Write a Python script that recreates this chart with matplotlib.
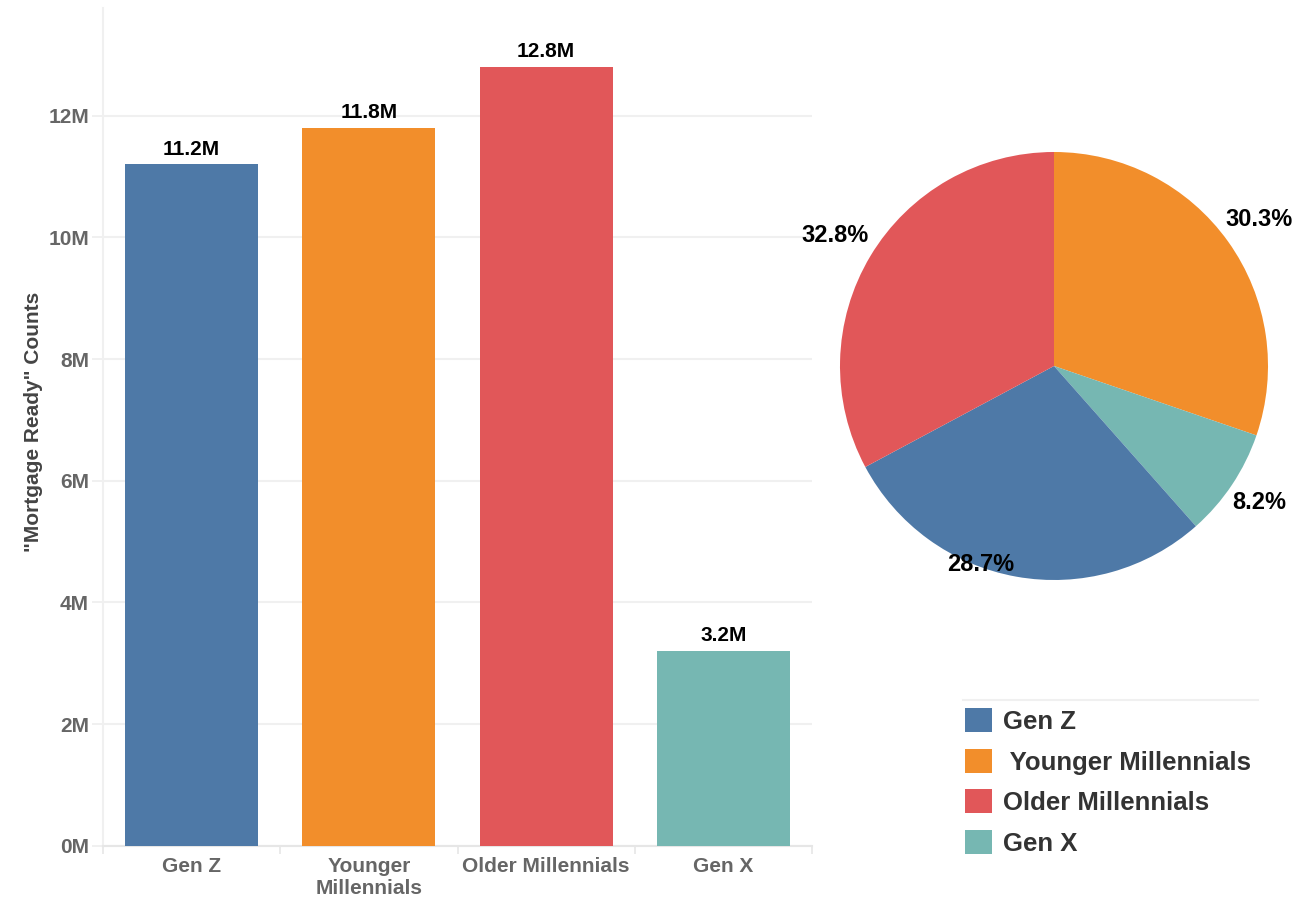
import numpy as np
import matplotlib.pyplot as plt
from matplotlib.patches import Patch

# data
categories = ['Gen Z', 'Younger Millennials', 'Older Millennials', 'Gen X']
tick_labels = ['Gen Z', 'Younger\nMillennials', 'Older Millennials', 'Gen X']
legend_labels = ['Gen Z', ' Younger Millennials', 'Older Millennials', 'Gen X']
counts = [11.2e6, 11.8e6, 12.8e6, 3.2e6]
colors = ['#4E79A7', '#F28E2B', '#E15759', '#76B7B2']
yticks = [0, 2e6, 4e6, 6e6, 8e6, 10e6, 12e6]

# pie runs clockwise from 12 o'clock in this order
pie_order = [1, 3, 0, 2]

plt.rcParams['font.family'] = ['Liberation Sans', 'DejaVu Sans']
plt.rcParams['font.weight'] = 'bold'

W, H = 1309, 898
fig = plt.figure(figsize=(W / 100, H / 100), dpi=100)

# ---- bar chart ----
ax = fig.add_axes([103 / W, 1 - 845.7 / H, 709 / W, (845.7 - 8) / H])
x = np.arange(len(categories))
bars = ax.bar(x, counts, width=0.75, color=colors, zorder=3)
for b, v in zip(bars, counts):
    ax.annotate(f'{v / 1e6:.1f}M', (b.get_x() + b.get_width() / 2, v),
                xytext=(0, 4), textcoords='offset points', ha='center', va='bottom',
                fontsize=15, fontweight='bold', color='black')

ax.set_xlim(-0.5, 3.5)
ax.set_ylim(0, 13.77e6)
ax.set_yticks(yticks)
ax.set_yticklabels([f'{int(t / 1e6)}M' for t in yticks])
ax.set_xticks(x)
ax.set_xticklabels(tick_labels)
ax.set_xticks(np.arange(-0.5, 4, 1), minor=True)
ax.tick_params(axis='x', which='major', length=0, pad=8, labelsize=15, labelcolor='#666666')
ax.tick_params(axis='x', which='minor', length=6, color='#e6e6e6', width=1.2)
ax.tick_params(axis='y', length=8, color='#eeeeee', width=1.2, pad=2,
               labelsize=15, labelcolor='#666666')
ax.grid(axis='y', color='#f0f0f0', linewidth=1.5, zorder=0)
for s in ['top', 'right']:
    ax.spines[s].set_visible(False)
ax.spines['left'].set_color('#f0f0f0')
ax.spines['bottom'].set_color('#e6e6e6')
ax.spines['left'].set_linewidth(1.5)
ax.spines['bottom'].set_linewidth(1.5)
ax.set_ylabel('"Mortgage Ready" Counts', fontsize=15, fontweight='bold',
              color='#444444')
ax.yaxis.set_label_coords(-0.085, 0.506)

# ---- pie chart ----
r_px = 214
cx, cy = 1054, 366
pax = fig.add_axes([(cx - r_px) / W, 1 - (cy + r_px) / H, 2 * r_px / W, 2 * r_px / H])
pie_vals = [counts[i] for i in pie_order]
pie_cols = [colors[i] for i in pie_order]
wedges, _ = pax.pie(pie_vals, colors=pie_cols, startangle=90, counterclock=False,
                    wedgeprops=dict(linewidth=0))
pax.set_xlim(-1, 1)
pax.set_ylim(-1, 1)
total = sum(counts)
# label distance / angle nudge per wedge
lab_dist = [1.18, 1.15, 0.99, 1.19]
lab_shift = [0, 0, -10, 0]
for k, w in enumerate(wedges):
    ang = np.deg2rad((w.theta1 + w.theta2) / 2 + lab_shift[k])
    pct = pie_vals[k] / total * 100
    pax.text(lab_dist[k] * np.cos(ang), lab_dist[k] * np.sin(ang), f'{pct:.1f}%',
             ha='center', va='center', fontsize=17, fontweight='bold', color='black',
             clip_on=False)

# ---- legend ----
fig.add_artist(plt.Line2D([963 / W, 1258 / W], [1 - 700 / H, 1 - 700 / H],
                          color='#f0f0f0', linewidth=1.5))
handles = [Patch(facecolor=c, edgecolor='none') for c in colors]
leg = fig.legend(handles, legend_labels, loc='upper left',
                 bbox_to_anchor=(955 / W, 1 - 698 / H), frameon=False,
                 fontsize=18.5, handlelength=1.05, handleheight=1.05,
                 handletextpad=0.4, labelspacing=0.58, borderaxespad=0)
for t in leg.get_texts():
    t.set_color('#333333')
    t.set_fontweight('bold')

fig.savefig('out.png', dpi=100)
